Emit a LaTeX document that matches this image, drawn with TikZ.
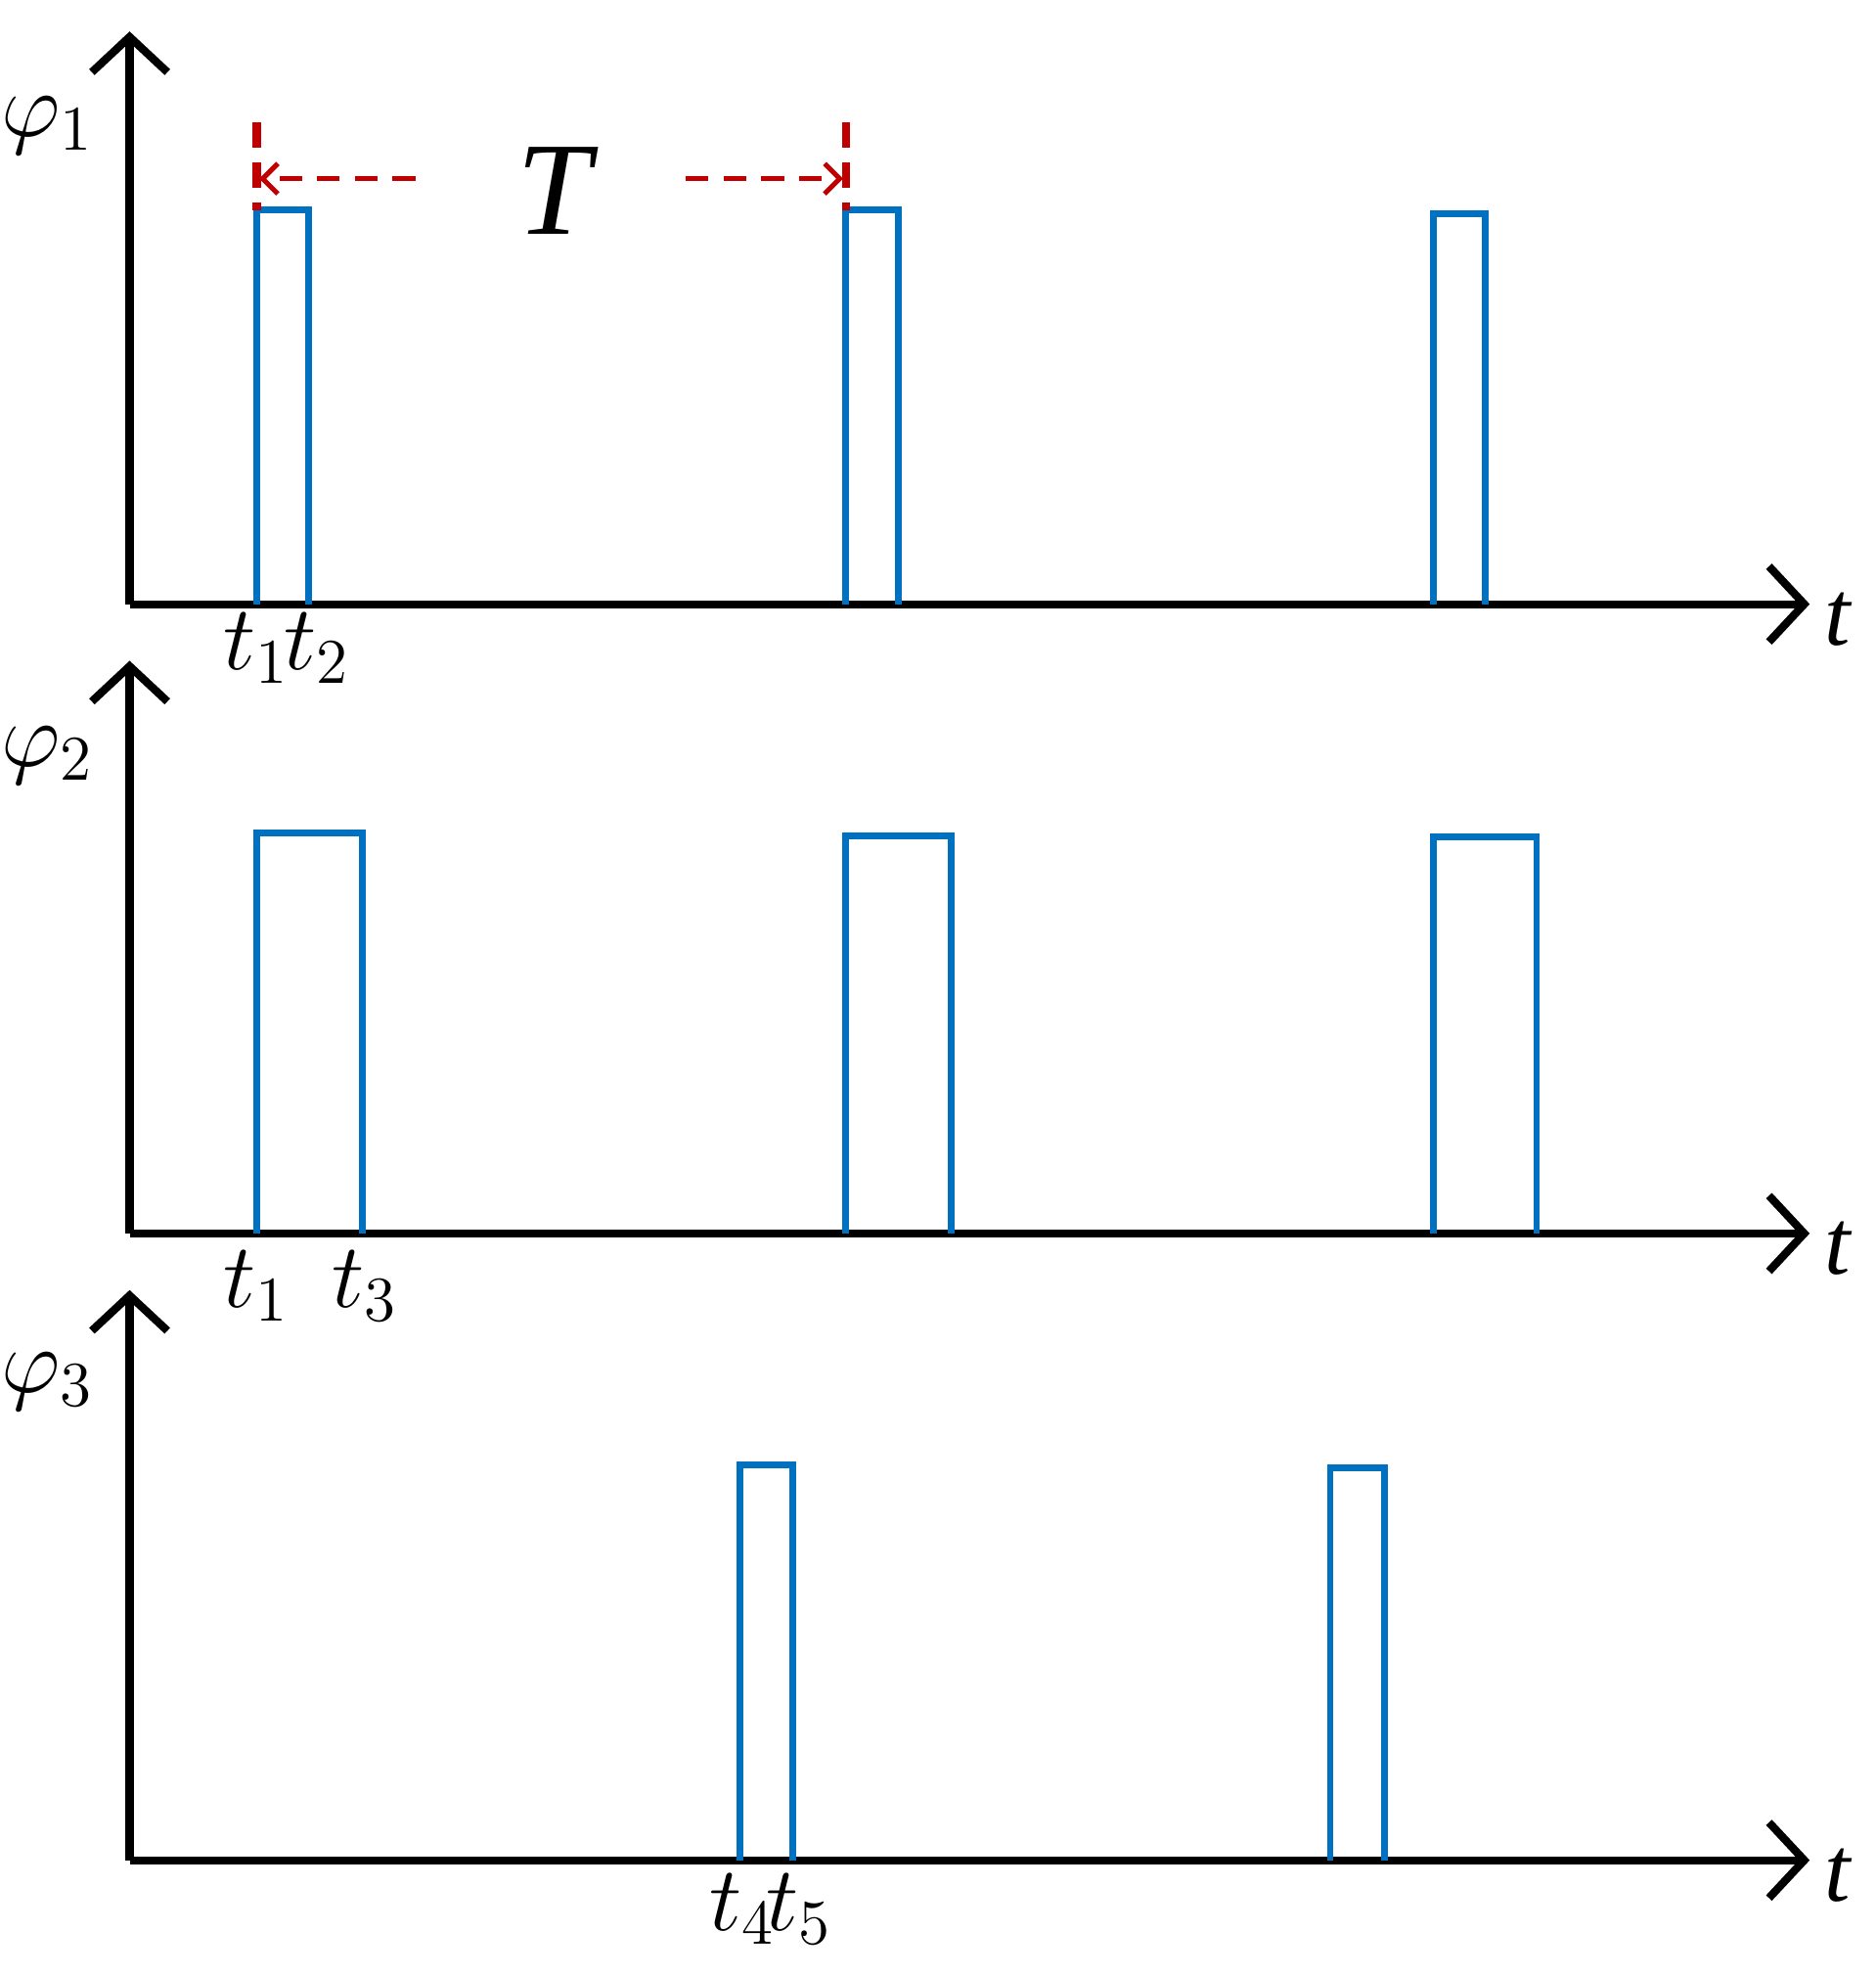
\documentclass[tikz,border=0pt]{standalone}
\usepackage{fontspec}
\setmainfont{Liberation Serif}
\usetikzlibrary{arrows.meta}
\definecolor{pulseblue}{RGB}{0,112,192}
\definecolor{darkred}{RGB}{192,0,0}
\tikzstyle{axis} = [line width=1.8pt, black, -{Straight Barb[length=0.28cm,width=0.6cm,line width=1.8pt]}]
\tikzstyle{pulse} = [line width=1.5pt, pulseblue]
\tikzstyle{tick} = [line width=1.8pt, darkred, dash pattern=on 0.2cm off 0.12cm]
\tikzstyle{period} = [line width=1.1pt, darkred, dash pattern=on 0.18cm off 0.12cm, -{Straight Barb[length=0.12cm,width=0.24cm]}]
\tikzstyle{lbl} = [font=\fontsize{21}{24}\selectfont\itshape, inner sep=0pt]
\begin{document}
\begin{tikzpicture}[x=0.01cm, y=-0.01cm]
\useasboundingbox (0,0) rectangle (1490,1570);
% Axes
\foreach \y/\top/\n in {480/25/1, 980/525/2, 1478/1025/3} {
  \draw [axis] (103,\y) -- (103,\top);
  \draw [axis] (103,\y) -- (1438,\y);
  \node (t\n) [lbl] at (1460,\y+12) {t};
  \node (phi\n) [lbl] at (38,\y-380) {$\varphi_{\n}$};
}

% Pulses
\foreach \a/\b/\top/\y in {204/245/167/480, 672/714/167/480, 1139/1180/170/480,
  204/288/662/980, 672/756/664/980, 1139/1221/665/980,
  588/630/1164/1478, 1057/1100/1166/1478}
  \draw [pulse] (\a,\y) -- (\a,\top) -- (\b,\top) -- (\b,\y);

% Time labels
\node (l1) [lbl] at (204,515) {$t_1$};
\node (l2) [lbl] at (252,515) {$t_2$};
\node (l3) [lbl] at (204,1022) {$t_1$};
\node (l4) [lbl] at (290,1022) {$t_3$};
\node (l5) [lbl] at (590,1517) {$t_4$};
\node (l6) [lbl] at (635,1517) {$t_5$};

% Period
\draw [tick] (204,97) -- (204,167);
\draw [tick] (672,97) -- (672,167);
\node (T) [lbl, font=\fontsize{30}{34}\selectfont\itshape] at (440,152) {T};
\coordinate (pl) at (330,142);
\coordinate (pr) at (545,142);
\draw [period] (pl) -- (206,142);
\draw [period] (pr) -- (670,142);
\end{tikzpicture}
\end{document}
